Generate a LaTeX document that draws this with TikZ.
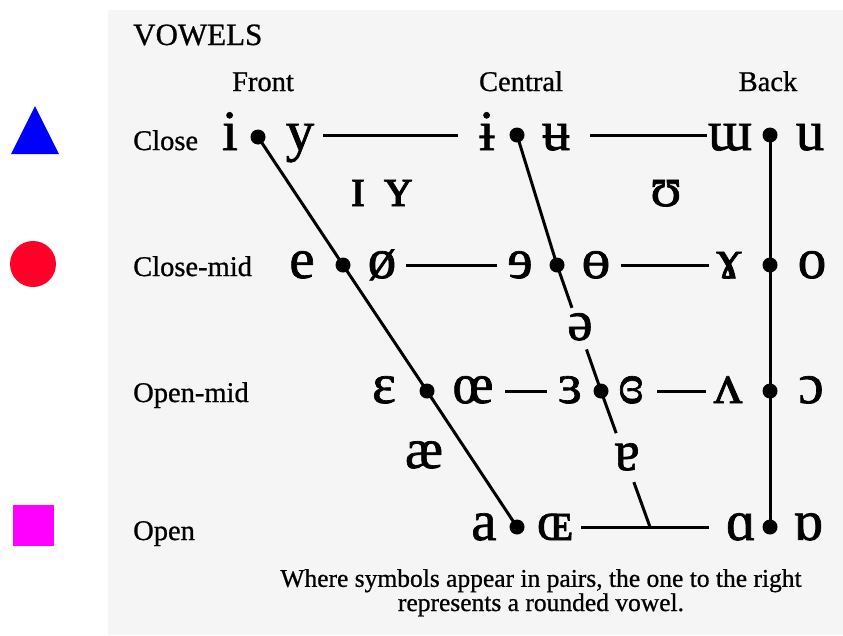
\documentclass[tikz,border=0pt]{standalone}
\usepackage{fontspec}
\setmainfont{Liberation Serif}
\newfontfamily\ipafont[FakeBold=1.2]{Liberation Serif}
\newfontfamily\labfont[FakeBold=0.8]{Liberation Serif}
\usetikzlibrary{calc}
\definecolor{bg}{RGB}{245,245,245}
\definecolor{tri}{RGB}{0,0,255}
\definecolor{ball}{RGB}{255,0,40}
\definecolor{sq}{RGB}{255,0,255}
\begin{document}
\begin{tikzpicture}[x=1pt,y=-1pt,
  lab/.style={font=\labfont\fontsize{28.5}{30}\selectfont, anchor=base, inner sep=0pt},
  rowlab/.style={lab, anchor=base west},
  sym/.style={font=\ipafont\fontsize{57}{60}\selectfont, anchor=base, inner sep=0pt},
  vdot/.style={circle, fill=black, inner sep=0pt, minimum size=15pt},
  ln/.style={line width=3pt}]
\useasboundingbox (0,0) rectangle (843,635);
\fill[bg] (108,10) rectangle (843,635);
% side shapes
\fill[tri] (35,106) -- (59,154) -- (11,154) -- cycle;
\fill[ball] (33,264) circle[radius=23];
\fill[sq] (13,505) rectangle (54,546);
% headings
\node[lab, anchor=base west, font=\labfont\fontsize{31}{33}\selectfont] (title) at (133,45) {VOWELS};
\node[lab] (front) at (263,91) {Front};
\node[lab] (central) at (521,91) {Central};
\node[lab] (back) at (768,91) {Back};
\node[rowlab] (rclose) at (133,150) {Close};
\node[rowlab] (rclosemid) at (133,276) {Close-mid};
\node[rowlab] (ropenmid) at (133,402) {Open-mid};
\node[rowlab] (ropen) at (133,540) {Open};
% close row
\node[sym] (s-i) at (230,150) {i};
\node[sym] (s-y) at (300,150) {y};
\node[sym] (s-ibar) at (487,150) {ɨ};
\node[sym] (s-ubar) at (556,150) {ʉ};
\node[sym] (s-mw) at (730,150) {ɯ};
\node[sym] (s-u) at (810,150) {u};
% near-close
\node[sym] (s-ic) at (358,206) {ɪ};
\node[sym] (s-yc) at (398,206) {ʏ};
\node[sym] (s-hu) at (666,206) {ʊ};
% close-mid
\node[sym] (s-e) at (302,278) {e};
\node[sym] (s-oe) at (382,278) {ø};
\node[sym] (s-rese) at (520,278) {ɘ};
\node[sym] (s-obar) at (596,278) {ɵ};
\node[sym] (s-gam) at (729,278) {ɤ};
\node[sym] (s-o) at (812,278) {o};
% mid
\node[sym] (s-schwa) at (580,340) {ə};
% open-mid
\node[sym] (s-eps) at (384,403) {ɛ};
\node[sym] (s-oel) at (473,403) {œ};
\node[sym] (s-reps) at (570,403) {ɜ};
\node[sym] (s-creps) at (631,403) {ɞ};
\node[sym] (s-wedge) at (728,403) {ʌ};
\node[sym] (s-oo) at (811,403) {ɔ};
% near-open
\node[sym] (s-ae) at (424,468) {æ};
\node[sym] (s-turna) at (627,470) {ɐ};
% open
\node[sym] (s-a) at (484,540) {a};
\node[sym] (s-OE) at (555,540) {ɶ};
\node[sym] (s-alpha) at (741,540) {ɑ};
\node[sym] (s-talpha) at (808,540) {ɒ};
% dots
\node[vdot] (f1) at (258,137) {};
\node[vdot] (f2) at (343,265) {};
\node[vdot] (f3) at (427,391) {};
\node[vdot] (f4) at (517,527) {};
\node[vdot] (c1) at (517,135) {};
\node[vdot] (c2) at (557,265) {};
\node[vdot] (c3) at (601,391) {};
\coordinate (c4) at (650,527);
\node[vdot] (b1) at (770,135) {};
\node[vdot] (b2) at (770,265) {};
\node[vdot] (b3) at (770,391) {};
\node[vdot] (b4) at (770,527) {};
% line ends
\coordinate (h1a) at (323,135); \coordinate (h1b) at (458,135);
\coordinate (h2a) at (590,135); \coordinate (h2b) at (707,135);
\coordinate (h3a) at (406,265); \coordinate (h3b) at (497,265);
\coordinate (h4a) at (621,265); \coordinate (h4b) at (709,265);
\coordinate (h5a) at (505,391); \coordinate (h5b) at (547,391);
\coordinate (h6a) at (657,391); \coordinate (h6b) at (706,391);
\coordinate (h7a) at (581,527); \coordinate (h7b) at (709,527);
% connectors
\draw[ln] (f1.center) -- (f2.center) -- (f3.center) -- (f4.center);
\draw[ln] (b1.center) -- (b2.center) -- (b3.center) -- (b4.center);
\draw[ln] (c1.center) -- (c2.center) -- ($(c2.center)!0.34!(c3.center)$);
\draw[ln] ($(c2.center)!0.67!(c3.center)$) -- (c3.center) -- ($(c3.center)!0.31!(c4)$);
\draw[ln] ($(c3.center)!0.67!(c4)$) -- (c4);
\draw[ln] (h1a) -- (h1b);
\draw[ln] (h2a) -- (h2b);
\draw[ln] (h3a) -- (h3b);
\draw[ln] (h4a) -- (h4b);
\draw[ln] (h5a) -- (h5b);
\draw[ln] (h6a) -- (h6b);
\draw[ln] (h7a) -- (h7b);
% caption
\node[font=\labfont\fontsize{25.5}{23}\selectfont, align=center, anchor=base, inner sep=0pt] (cap) at (541,611)
  {Where symbols appear in pairs, the one to the right\\represents a rounded vowel.};
\end{tikzpicture}
\end{document}
